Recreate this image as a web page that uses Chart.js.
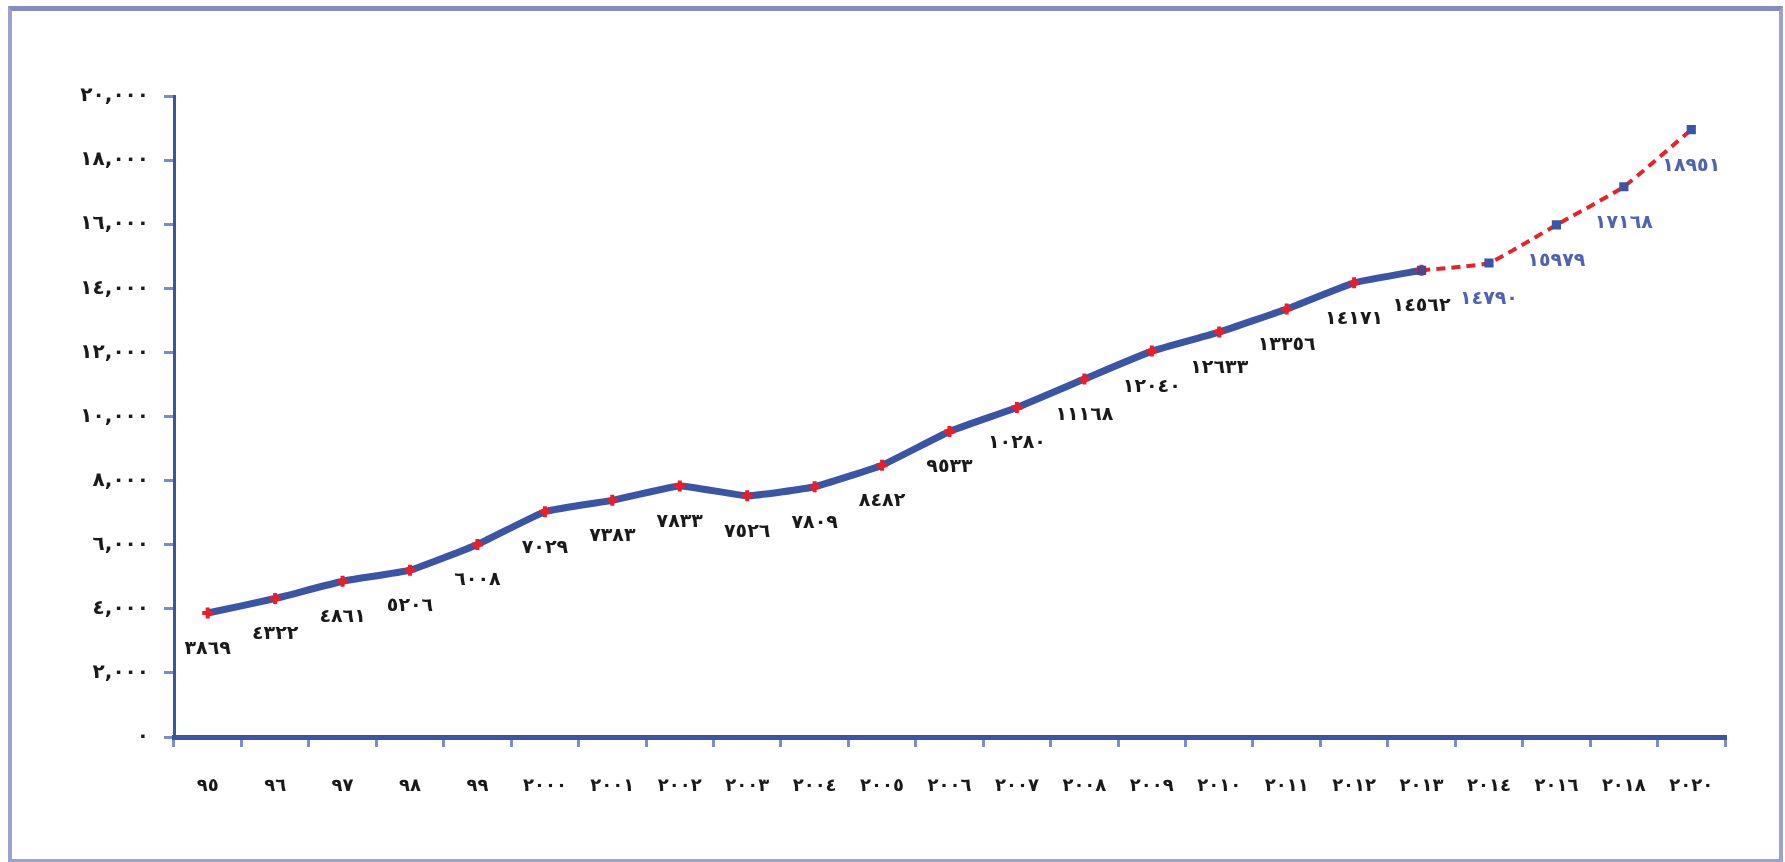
<!DOCTYPE html>
<html>
<head>
<meta charset="utf-8">
<script src="https://cdn.jsdelivr.net/npm/chart.js@4/dist/chart.umd.min.js"></script>
<style>
  html, body { margin: 0; padding: 0; background: #ffffff; width: 1785px; height: 862px; overflow: hidden; }
  #wrap { position: absolute; left: 0; top: 0; width: 1785px; height: 862px; }
  #frame { position: absolute; left: 8px; top: 6px; width: 1767px; height: 848px;
           border: 4px solid #9ca1cf; border-top: 5px solid #858cc4; pointer-events: none; }
  canvas { position: absolute; left: 0; top: 0; }
</style>
</head>
<body>
<div id="wrap">
  <canvas id="c" width="1785" height="862"></canvas>
  <div id="frame"></div>
</div>
<script>
// ---- data ----
const categories = ['٩٥','٩٦','٩٧','٩٨','٩٩','٢٠٠٠','٢٠٠١','٢٠٠٢','٢٠٠٣','٢٠٠٤','٢٠٠٥','٢٠٠٦','٢٠٠٧','٢٠٠٨','٢٠٠٩','٢٠١٠','٢٠١١','٢٠١٢','٢٠١٣','٢٠١٤','٢٠١٦','٢٠١٨','٢٠٢٠'];
const actualValues = [3869, 4322, 4861, 5206, 6008, 7029, 7383, 7833, 7526, 7809, 8482, 9533, 10280, 11168, 12040, 12633, 13356, 14171, 14562];
const forecastValues = [14790, 15979, 17168, 18951];
const yTicks = [0, 2000, 4000, 6000, 8000, 10000, 12000, 14000, 16000, 18000, 20000];

// ---- helpers ----
const AR_DIGITS = '٠١٢٣٤٥٦٧٨٩';
function toArabicDigits(str) { return String(str).replace(/[0-9]/g, d => AR_DIGITS[+d]); }
function fmtThousands(v) { return toArabicDigits(String(v).replace(/\B(?=(\d{3})+(?!\d))/g, ',')); }

const lastActual = actualValues.length - 1;
const actualSeries = categories.map((_, i) => i < actualValues.length ? actualValues[i] : null);
const forecastSeries = categories.map((_, i) => {
  if (i < lastActual) return null;
  if (i === lastActual) return actualValues[lastActual];
  return forecastValues[i - actualValues.length];
});

const FONT = 'DejaVu Sans';
const TEXT_COLOR = '#1a1a1a';
const valueLabels = {
  id: 'valueLabels',
  afterDatasetsDraw(chart) {
    const ctx = chart.ctx;
    ctx.save();
    ctx.font = 'bold 19px "' + FONT + '"';
    ctx.textAlign = 'center';
    ctx.textBaseline = 'middle';
    chart.data.datasets.forEach((ds, di) => {
      const meta = chart.getDatasetMeta(di);
      meta.data.forEach((pt, i) => {
        const v = ds.data[i];
        if (v === null || v === undefined) return;
        if (ds.isForecast && i === lastActual) return;
        ctx.fillStyle = ds.isForecast ? '#5062b5' : TEXT_COLOR;
        ctx.fillText(toArabicDigits(v), pt.x, pt.y + 36);
      });
    });
    ctx.restore();
  }
};

new Chart(document.getElementById('c'), {
  type: 'line',
  data: {
    labels: categories,
    datasets: [
      {
        isForecast: true,
        data: forecastSeries,
        borderColor: '#e8212b',
        borderWidth: 4,
        borderDash: [9, 6],
        tension: 0.12,
        fill: false,
        pointStyle: 'rect',
        pointRadius: 6.5,
        pointBorderWidth: 0,
        pointBackgroundColor: ctx => ctx.dataIndex === lastActual ? '#55408e' : '#3a55a6',
        spanGaps: false
      },
      {
        isForecast: false,
        data: actualSeries,
        borderColor: '#3a55a6',
        borderWidth: 7,
        tension: 0.12,
        fill: false,
        pointStyle: 'cross',
        pointRadius: 5.5,
        pointBorderWidth: 4,
        pointBorderColor: '#ee1c25',
        pointBackgroundColor: '#ee1c25',
        spanGaps: false
      }
    ]
  },
  options: {
    responsive: false,
    animation: false,
    events: [],
    layout: { padding: { top: 96, right: 60, left: 0, bottom: 0 } },
    plugins: { legend: { display: false }, tooltip: { enabled: false }, title: { display: false } },
    scales: {
      x: {
        type: 'category',
        offset: true,
        grid: { offset: true, drawOnChartArea: false, drawTicks: true, tickLength: 10, color: '#7e8cc8', lineWidth: 3 },
        border: { display: true, color: '#3a55a6', width: 5 },
        ticks: { autoSkip: false, maxRotation: 0, minRotation: 0, padding: 29, color: TEXT_COLOR,
                 font: { family: FONT, size: 18, weight: 'bold' } },
        afterFit: s => { s.height = 125; }
      },
      y: {
        min: 0, max: 20000,
        afterBuildTicks: s => { s.ticks = yTicks.map(v => ({ value: v })); },
        grid: { drawOnChartArea: false, drawTicks: true, tickLength: 10, color: '#7e8cc8', lineWidth: 3 },
        border: { display: true, color: '#3a55a6', width: 3 },
        ticks: { padding: 15, color: TEXT_COLOR, callback: v => fmtThousands(v),
                 font: { family: FONT, size: 20, weight: 'bold' } },
        afterFit: s => { s.width = 174; }
      }
    }
  },
  plugins: [valueLabels]
});
</script>
</body>
</html>
